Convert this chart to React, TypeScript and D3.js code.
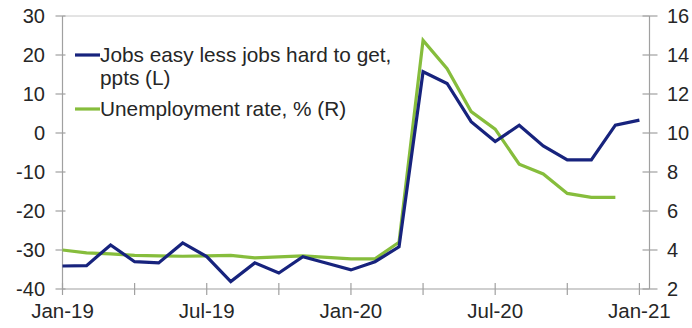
import React from "react";
import * as d3 from "d3";

const months = d3.range(0, 25); // Jan-19 .. Jan-21 as month index
const jobsDiff = [
  -34.1, -34.0, -28.7, -33.0, -33.3, -28.2, -31.7, -38.1, -33.3, -35.9, -31.7, -33.4,
  -35.1, -33.0, -29.2, 15.7, 12.7, 2.9, -2.2, 2.0, -3.3, -6.9, -6.9, 2.0, 3.3,
];
const unemployment = [
  4.0, 3.85, 3.8, 3.72, 3.7, 3.68, 3.7, 3.72, 3.6, 3.65, 3.7, 3.62,
  3.55, 3.55, 4.4, 14.75, 13.3, 11.1, 10.2, 8.4, 7.9, 6.9, 6.7, 6.7,
];
const xTickMonths = [0, 3, 6, 9, 12, 15, 18, 21, 24];
const xTickLabels: Record<number, string> = { 0: "Jan-19", 6: "Jul-19", 12: "Jan-20", 18: "Jul-20", 24: "Jan-21" };
const leftTicks = [30, 20, 10, 0, -10, -20, -30, -40];
const rightTicks = [16, 14, 12, 10, 8, 6, 4, 2];

const W = 692;
const H = 328;
const left = 62.5;
const right = 649.5;
const top = 16;
const bottom = 289;

const BLUE = "#17237d";
const GREEN = "#86bd3c";
const AXIS = "#a0a0a0";
const TEXT = "#262626";
const FONT = "Liberation Sans, Arial, sans-serif";

export default function App() {
  const x = d3.scaleLinear().domain([0, 24.42]).range([left, right]);
  const yL = d3.scaleLinear().domain([-40, 30]).range([bottom, top]);
  const yR = d3.scaleLinear().domain([2, 16]).range([bottom, top]);

  const blueLine = d3
    .line<number>()
    .x((_, i) => x(months[i]))
    .y((d) => yL(d))(jobsDiff) as string;
  const greenLine = d3
    .line<number>()
    .x((_, i) => x(months[i]))
    .y((d) => yR(d))(unemployment) as string;

  return (
    <svg
      width={W}
      height={H}
      style={{ position: "absolute", left: 0, top: 0, background: "#fff" }}
      fontFamily={FONT}
    >
      {/* frame */}
      <line x1={left} x2={right} y1={top} y2={top} stroke="#c8c8c8" strokeWidth={1} />
      <line x1={left} x2={left} y1={top} y2={bottom} stroke={AXIS} strokeWidth={1.2} />
      <line x1={right} x2={right} y1={top} y2={bottom} stroke={AXIS} strokeWidth={1.2} />
      <line x1={left} x2={right} y1={bottom} y2={bottom} stroke={AXIS} strokeWidth={1.2} />

      {/* left ticks */}
      {leftTicks.map((t) => (
        <g key={"l" + t}>
          <line x1={left - 7} x2={left + 3} y1={yL(t)} y2={yL(t)} stroke={AXIS} strokeWidth={1.2} />
          <text x={45} y={yL(t)} dy="0.36em" textAnchor="end" fontSize={20} fill={TEXT}>
            {t}
          </text>
        </g>
      ))}

      {/* right ticks */}
      {rightTicks.map((t) => (
        <g key={"r" + t}>
          <line x1={right - 7} x2={right + 8} y1={yR(t)} y2={yR(t)} stroke={AXIS} strokeWidth={1.2} />
          <text x={667} y={yR(t)} dy="0.36em" textAnchor="start" fontSize={20} fill={TEXT}>
            {t}
          </text>
        </g>
      ))}

      {/* x ticks */}
      {xTickMonths.map((m) => (
        <g key={"x" + m}>
          <line x1={x(m)} x2={x(m)} y1={bottom - 6} y2={bottom + 6} stroke={AXIS} strokeWidth={1.2} />
          {xTickLabels[m] && (
            <text x={x(m)} y={bottom + 22} dy="0.36em" textAnchor="middle" fontSize={20.5} fill={TEXT}>
              {xTickLabels[m]}
            </text>
          )}
        </g>
      ))}

      {/* series */}
      <path d={greenLine} fill="none" stroke={GREEN} strokeWidth={3.2} strokeLinejoin="miter" />
      <path d={blueLine} fill="none" stroke={BLUE} strokeWidth={3.2} strokeLinejoin="miter" />

      {/* legend */}
      <line x1={75} x2={100} y1={55} y2={55} stroke={BLUE} strokeWidth={3.2} />
      <text x={100} y={55} dy="0.36em" fontSize={20.8} fill={TEXT}>
        Jobs easy less jobs hard to get,
      </text>
      <text x={100} y={78} dy="0.36em" fontSize={20.8} fill={TEXT}>
        ppts (L)
      </text>
      <line x1={75} x2={100} y1={109} y2={109} stroke={GREEN} strokeWidth={3.2} />
      <text x={100} y={109} dy="0.36em" fontSize={20.8} fill={TEXT}>
        Unemployment rate, % (R)
      </text>
    </svg>
  );
}
